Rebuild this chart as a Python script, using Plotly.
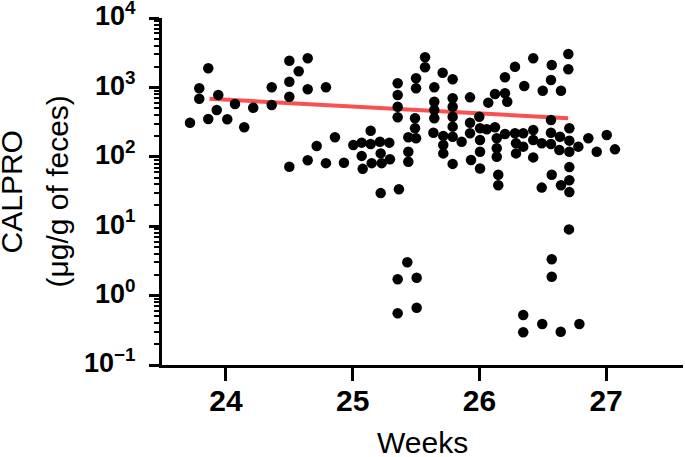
import plotly.graph_objects as go

weeks = [23.716, 23.789, 23.789, 23.860, 23.860, 23.927, 23.939, 24.010, 24.071, 24.144,
         24.215, 24.361, 24.361, 24.500, 24.500, 24.500, 24.574, 24.645, 24.645, 24.789,
         24.860, 24.716, 24.645, 24.789, 24.500, 24.931,
         25.005, 25.071, 25.142, 25.142, 25.215, 25.289, 25.071, 25.079, 25.150, 25.221,
         25.229, 25.294, 25.221, 25.365, 25.355, 25.355, 25.355, 25.355, 25.439, 25.439,
         25.439, 25.500, 25.500, 25.492, 25.492, 25.500, 25.571, 25.571, 25.644, 25.644,
         25.644, 25.644, 25.637, 25.710, 25.715, 25.715, 25.715, 25.789, 25.789, 25.789,
         25.789, 25.789, 25.789, 25.789, 25.860, 25.926, 25.926, 25.926, 25.934, 25.999,
         26.005, 26.005, 26.005, 26.005, 26.070, 26.058, 26.123, 26.123, 26.137, 26.137,
         26.137, 26.149, 26.149, 26.202, 26.202, 26.202, 26.220, 26.281, 26.281, 26.289,
         26.289, 26.346, 26.354, 26.346, 26.425, 26.425, 26.425, 26.425, 26.492, 26.500,
         26.492, 26.571, 26.565, 26.565, 26.565, 26.565, 26.571, 26.636, 26.631, 26.644,
         26.644, 26.702, 26.702, 26.710, 26.710, 26.710, 26.710, 26.710, 26.710, 26.781,
         26.860, 26.926, 27.005, 27.070, 26.707,
         25.431, 25.355, 25.505, 25.355, 25.505, 26.571, 26.571, 26.346, 26.346, 26.496,
         26.642, 26.789]

calpro = [310, 970, 687, 1885, 351, 472, 776, 347, 576, 266,
          510, 1003, 557, 2426, 1208, 734, 1706, 2624, 940, 1003,
          191, 143, 89, 81, 72, 82,
          148, 160, 238, 153, 165, 160, 103, 67, 81, 112,
          81, 92, 30, 34, 1146, 776, 527, 371, 191, 118,
          85, 1352, 970, 359, 258, 185, 2716, 1950, 1003, 622,
          472, 359, 222, 1630, 200, 148, 112, 1310, 696, 527,
          378, 272, 195, 79, 165, 719, 310, 218, 90, 378,
          258, 175, 118, 68, 603, 249, 804, 266, 185, 133,
          100, 55, 39, 1400, 822, 213, 622, 1985, 218, 157,
          112, 218, 1048, 140, 2624, 243, 175, 98, 157, 896,
          36, 2104, 1279, 339, 222, 153, 55, 195, 125, 896,
          39, 3029, 1824, 258, 171, 118, 71, 46, 31, 140,
          185, 118, 206, 128, 9.0,
          3.02, 1.72, 1.81, 0.556, 0.670, 3.34, 1.87, 0.525, 0.296, 0.390,
          0.302, 0.390]

fit_weeks = [23.87, 26.70]
fit_calpro = [687, 359]

ytick_vals = [0.1, 1, 10, 100, 1000, 10000]
ytick_text = ["10<sup>−1</sup>", "10<sup>0</sup>", "10<sup>1</sup>", "10<sup>2</sup>",
              "10<sup>3</sup>", "10<sup>4</sup>"]
xtick_vals = [24, 25, 26, 27]

fig = go.Figure()
fig.add_trace(go.Scatter(x=fit_weeks, y=fit_calpro, mode="lines",
                         line=dict(color="rgb(250,80,80)", width=4),
                         hoverinfo="skip"))
fig.add_trace(go.Scatter(x=weeks, y=calpro, mode="markers",
                         marker=dict(color="black", size=10.5, line=dict(width=0))))

fig.update_layout(
    width=685, height=457,
    margin=dict(l=162, r=2, t=18, b=92, autoexpand=False),
    paper_bgcolor="white", plot_bgcolor="white",
    showlegend=False,
    font=dict(family="Liberation Sans, Arial, sans-serif", color="black"),
)
fig.update_xaxes(
    range=[23.495, 27.607], tickvals=xtick_vals,
    showgrid=False, zeroline=False, automargin=False,
    showline=True, linecolor="black", linewidth=3,
    ticks="outside", ticklen=13, tickwidth=3, tickcolor="black",
    tickfont=dict(size=30, weight="bold"),
    ticklabelstandoff=-6, ticklabeloverflow="allow",
)
fig.update_yaxes(
    type="log", range=[-1, 4], tickvals=ytick_vals, ticktext=ytick_text,
    showgrid=False, zeroline=False, automargin=False,
    showline=True, linecolor="black", linewidth=3,
    ticks="outside", ticklen=10, tickwidth=3, tickcolor="black",
    tickfont=dict(size=27, weight="bold"),
    ticklabelstandoff=8, ticklabelshift=-2, ticklabeloverflow="allow",
    minor=dict(ticks="outside", ticklen=5, tickwidth=2, tickcolor="black",
               dtick="D1", showgrid=False),
)
fig.add_annotation(text="Weeks", xref="paper", yref="paper", x=0.5, y=-0.17,
                   xanchor="center", yanchor="top", showarrow=False,
                   font=dict(size=30))
fig.add_annotation(text="CALPRO", xref="paper", yref="paper", x=-0.288, y=0.5,
                   xanchor="center", yanchor="middle", textangle=-90, showarrow=False,
                   font=dict(size=30))
fig.add_annotation(text="(μg/g of feces)", xref="paper", yref="paper", x=-0.2015, y=0.5,
                   xanchor="center", yanchor="middle", textangle=-90, showarrow=False,
                   font=dict(size=30))

# remove the browser's default 8 px body margin so the figure fills the window
fig.write_html("out.html",
               config={"displayModeBar": False},
               post_script="document.body.style.margin='0';document.body.style.padding='0';")
